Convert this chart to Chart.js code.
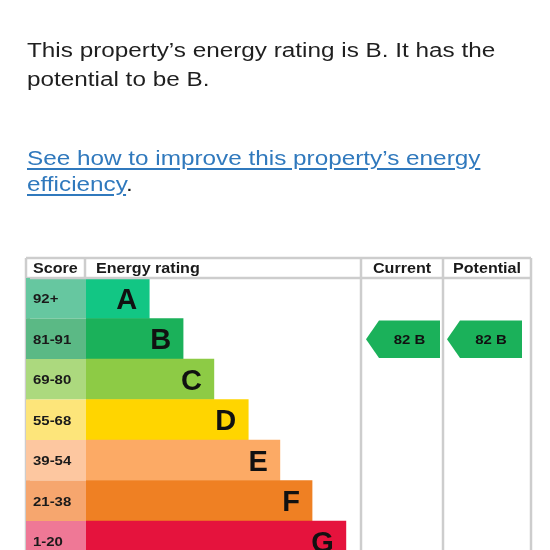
<!DOCTYPE html>
<html>
<head>
<meta charset="utf-8">
<script src="https://cdn.jsdelivr.net/npm/chart.js@4/dist/chart.umd.min.js"></script>
<style>
  html, body { margin: 0; padding: 0; width: 550px; height: 550px; overflow: hidden; background: #fff; }
  #wrap { position: relative; width: 550px; height: 550px; }
  #chart { position: absolute; left: 0; top: 0; }
  .txt { position: absolute; left: 27px; font-family: "Liberation Sans", Arial, sans-serif; font-size: 20px; margin: 0; z-index: 2;
         transform: scaleX(1.215); transform-origin: 0 0; white-space: nowrap; }
  #p1 { top: 36px; line-height: 29px; color: #1f1f1f; }
  #p2 { top: 145px; line-height: 26px; color: #1f1f1f; }
  #p2 a { color: #3079bd; text-decoration: underline; text-decoration-thickness: 2px; text-underline-offset: 3px; }
</style>
</head>
<body>
<div id="wrap">
  <p class="txt" id="p1">This property’s energy rating is B. It has the<br>potential to be B.</p>
  <p class="txt" id="p2"><a href="#">See how to improve this property’s energy<br>efficiency</a>.</p>
  <canvas id="chart" width="550" height="580"></canvas>
</div>
<script>
// ---- data ----
const bands = ['A', 'B', 'C', 'D', 'E', 'F', 'G'];
const scoreRanges = ['92+', '81-91', '69-80', '55-68', '39-54', '21-38', '1-20'];
const barLengths = [23, 35.3, 46.5, 59, 70.5, 82.2, 94.5];   // share of the energy-rating column
const currentScore = 82;
const currentBand = 'B';
const potentialScore = 82;
const potentialBand = 'B';
const headers = ['Score', 'Energy rating', 'Current', 'Potential'];

// ---- styles ----
const bandColours = ['#12c684', '#1bb15a', '#8dcb45', '#ffd500', '#fcaa65', '#ef8023', '#e5133d'];
const scoreColours = ['#66c7a0', '#5bb985', '#acd97e', '#fde57a', '#fdc7a0', '#f6a66e', '#ef7896'];
const gridColour = '#cdcdcd';
const FONT = '"Liberation Sans", Arial, sans-serif';

const layout = { tableLeft: 26, tableTop: 258, headerBottom: 278, col3: 443, tableRight: 531 };

function stretchedText(ctx, text, x, y, font, align, sx) {
  ctx.save();
  ctx.font = font;
  ctx.textAlign = align;
  ctx.textBaseline = 'alphabetic';
  ctx.translate(x, y);
  ctx.scale(sx, 1);
  ctx.fillText(text, 0, 0);
  ctx.restore();
}

function drawArrow(ctx, left, right, yTop, yBot, colour, label) {
  const tip = 13;
  const mid = (yTop + yBot) / 2;
  ctx.save();
  ctx.fillStyle = colour;
  ctx.beginPath();
  ctx.moveTo(left, mid);
  ctx.lineTo(left + tip, yTop);
  ctx.lineTo(right, yTop);
  ctx.lineTo(right, yBot);
  ctx.lineTo(left + tip, yBot);
  ctx.closePath();
  ctx.fill();
  ctx.fillStyle = '#111';
  stretchedText(ctx, label, (left + tip + right) / 2, mid + 5, 'bold 13px ' + FONT, 'center', 1.15);
  ctx.restore();
}

function bandOf(score) {
  return scoreRanges.findIndex(r => {
    if (r.endsWith('+')) return score >= parseInt(r);
    const [lo, hi] = r.split('-').map(Number);
    return score >= lo && score <= hi;
  });
}

const tablePlugin = {
  id: 'epcTable',
  beforeDatasetsDraw(chart) {
    const { ctx, chartArea, scales } = chart;
    const y = scales.y;
    const rowH = y.getPixelForValue(1) - y.getPixelForValue(0);
    bands.forEach((b, i) => {
      const cy = y.getPixelForValue(i);
      ctx.fillStyle = scoreColours[i];
      ctx.fillRect(layout.tableLeft, cy - rowH / 2, chartArea.left - layout.tableLeft, rowH);
      ctx.fillStyle = '#1a1a1a';
      stretchedText(ctx, scoreRanges[i], layout.tableLeft + 7, cy + 5, 'bold 13px ' + FONT, 'left', 1.15);
    });
  },
  afterDatasetsDraw(chart) {
    const { ctx, chartArea, scales } = chart;
    const x = scales.x, y = scales.y;
    const rowH = y.getPixelForValue(1) - y.getPixelForValue(0);
    bands.forEach((b, i) => {
      const cy = y.getPixelForValue(i);
      const xe = x.getPixelForValue(barLengths[i]);
      ctx.fillStyle = '#111';
      ctx.font = 'bold 29px ' + FONT;
      ctx.textAlign = 'right';
      ctx.textBaseline = 'alphabetic';
      ctx.fillText(b, xe - 12, cy + 10.5);
    });
    ctx.save();
    ctx.strokeStyle = gridColour;
    ctx.lineWidth = 2.5;
    ctx.beginPath();
    ctx.moveTo(layout.tableLeft, layout.tableTop); ctx.lineTo(layout.tableRight, layout.tableTop);
    ctx.moveTo(layout.tableLeft, layout.headerBottom); ctx.lineTo(layout.tableRight, layout.headerBottom);
    ctx.moveTo(layout.tableLeft, layout.tableTop); ctx.lineTo(layout.tableLeft, chart.height);
    ctx.moveTo(chartArea.left - 1, layout.tableTop); ctx.lineTo(chartArea.left - 1, layout.headerBottom);
    ctx.moveTo(chartArea.right, layout.tableTop); ctx.lineTo(chartArea.right, chart.height);
    ctx.moveTo(layout.col3, layout.tableTop); ctx.lineTo(layout.col3, chart.height);
    ctx.moveTo(layout.tableRight, layout.tableTop); ctx.lineTo(layout.tableRight, chart.height);
    ctx.stroke();
    ctx.restore();
    bands.forEach((b, i) => {
      const cy = y.getPixelForValue(i);
      ctx.fillStyle = scoreColours[i];
      ctx.fillRect(layout.tableLeft, cy - rowH / 2, 4, rowH);
    });
    ctx.fillStyle = '#1a1a1a';
    const hy = (layout.tableTop + layout.headerBottom) / 2 + 5;
    stretchedText(ctx, headers[0], layout.tableLeft + 7, hy, 'bold 14px ' + FONT, 'left', 1.15);
    stretchedText(ctx, headers[1], chartArea.left + 10, hy, 'bold 14px ' + FONT, 'left', 1.15);
    stretchedText(ctx, headers[2], (chartArea.right + layout.col3) / 2, hy, 'bold 14px ' + FONT, 'center', 1.15);
    stretchedText(ctx, headers[3], (layout.col3 + layout.tableRight) / 2, hy, 'bold 14px ' + FONT, 'center', 1.15);
    const ci = bandOf(currentScore);
    const pi = bandOf(potentialScore);
    const cy = y.getPixelForValue(ci), py = y.getPixelForValue(pi);
    drawArrow(ctx, chartArea.right + 5, layout.col3 - 3, cy - rowH / 2 + 2, cy + rowH / 2 - 1,
      bandColours[ci], currentScore + ' ' + currentBand);
    drawArrow(ctx, layout.col3 + 4, layout.tableRight - 9, py - rowH / 2 + 2, py + rowH / 2 - 1,
      bandColours[pi], potentialScore + ' ' + potentialBand);
  }
};

new Chart(document.getElementById('chart'), {
  type: 'bar',
  data: {
    labels: bands,
    datasets: [{
      data: barLengths,
      backgroundColor: bandColours,
      borderWidth: 0,
      barPercentage: 1,
      categoryPercentage: 1
    }]
  },
  options: {
    indexAxis: 'y',
    responsive: false,
    animation: false,
    layout: { padding: { left: 86, right: 189, top: 278, bottom: 18.5 } },
    plugins: { legend: { display: false }, tooltip: { enabled: false } },
    scales: {
      x: { display: false, min: 0, max: 100 },
      y: { display: false }
    }
  },
  plugins: [tablePlugin]
});
</script>
</body>
</html>
